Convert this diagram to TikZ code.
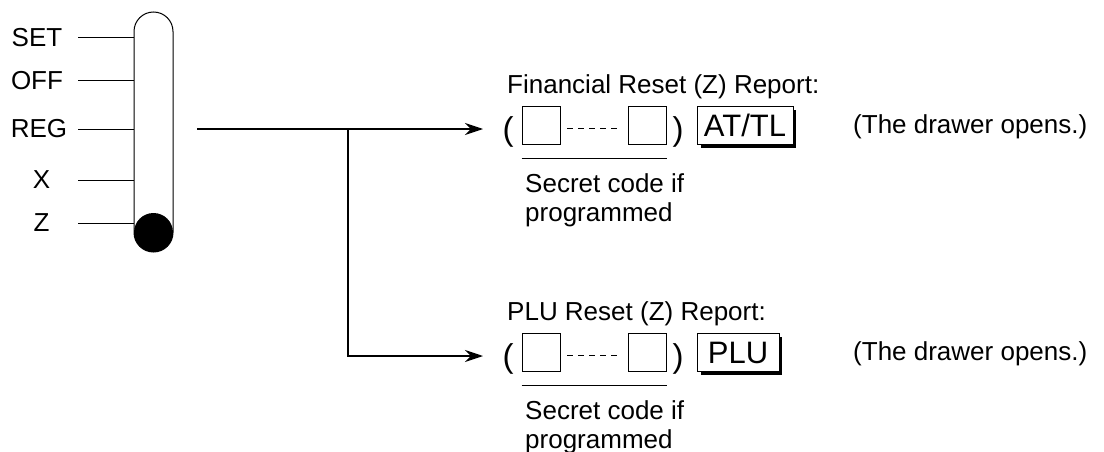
\documentclass[tikz,border=0pt]{standalone}
\usepackage{fontspec}
\setmainfont{Liberation Sans}
\usetikzlibrary{arrows.meta, positioning, calc}

\begin{document}
\begin{tikzpicture}[x=1pt, y=-1pt,
    lbl/.style={font=\fontsize{26}{29}\selectfont, inner sep=0pt},
    keysq/.style={draw, line width=0.9pt, minimum size=38pt, inner sep=0pt},
    keyname/.style={draw, line width=0.9pt, minimum height=38pt, inner sep=0pt,
                    font=\fontsize{31}{31}\selectfont, text height=22pt, text depth=0pt},
    paren/.style={font=\fontsize{33}{33}\selectfont, inner sep=0pt, anchor=base},
    feed/.style={line width=1.3pt, -{Stealth[length=18pt, width=12pt, inset=6pt]}},
    dots/.style={line width=0.8pt, dash pattern=on 6pt off 5pt},
    shadow/.style={line width=2.5pt},
]
    \useasboundingbox (0,0) rectangle (1104,452);

    % mode switch
    \node[draw, line width=1pt, minimum width=39pt, minimum height=240pt,
          rounded corners=19.5pt] (sw) at (153.5,132) {};
    \fill (153.5,232.5) circle (19.5pt);
    \foreach \y/\t/\x/\n in {38/SET/37/set, 81/OFF/37/off, 129/REG/39/reg,
                             180/X/41.5/xmode, 223/Z/41.5/zmode} {
        \node[lbl] (\n) at (\x,\y) {\t};
        \draw[line width=1pt] (78,\y) -- (sw.west |- 0,\y);
    }

    % feed lines
    \coordinate (src) at (197,129);
    \coordinate (br) at (348,129);
    \coordinate (finin) at (483,129);
    \coordinate (pluin) at (483,356);
    \draw[feed] (src) -- (finin);
    \draw[feed] (br) |- (pluin);

    % financial reset report
    \node[lbl, anchor=base west] (fintitle) at (507,93) {Financial Reset (Z) Report:};
    \node[paren] (finl) at (508,140) {(};
    \node[keysq] (fina) at (541,125) {};
    \node[keysq] (finb) at (647,125) {};
    \draw[dots] ($(fina.east)+(7,3)$) -- ($(finb.west)+(-7,3)$);
    \node[paren] (finr) at (678,140) {)};
    \node[keyname, minimum width=96pt] (attl) at (745,125.5) {AT/TL};
    \draw[shadow] ($(attl.north east)+(1.5,4)$) -- ($(attl.south east)+(1.5,1.5)$)
        -- ($(attl.south west)+(4,1.5)$);
    \draw[line width=0.9pt] ($(fina.south west)+(0,14)$) -- ($(finb.south east)+(1,14)$);
    \node[lbl, anchor=north west, align=left] (fincode) at (525,173) {Secret code if\\programmed};
    \node[lbl, anchor=base west] (finnote) at (853,133) {(The drawer opens.)};

    % plu reset report
    \node[lbl, anchor=base west] (plutitle) at (507,320) {PLU Reset (Z) Report:};
    \node[paren] (plul) at (508,367) {(};
    \node[keysq] (plua) at (541,352) {};
    \node[keysq] (plub) at (647,352) {};
    \draw[dots] ($(plua.east)+(7,3)$) -- ($(plub.west)+(-7,3)$);
    \node[paren] (plur) at (678,367) {)};
    \node[keyname, minimum width=82pt] (plu) at (738,352.5) {PLU};
    \draw[shadow] ($(plu.north east)+(1.5,4)$) -- ($(plu.south east)+(1.5,1.5)$)
        -- ($(plu.south west)+(4,1.5)$);
    \draw[line width=0.9pt] ($(plua.south west)+(0,14)$) -- ($(plub.south east)+(1,14)$);
    \node[lbl, anchor=north west, align=left] (plucode) at (525,400) {Secret code if\\programmed};
    \node[lbl, anchor=base west] (plunote) at (853,360) {(The drawer opens.)};
\end{tikzpicture}
\end{document}
